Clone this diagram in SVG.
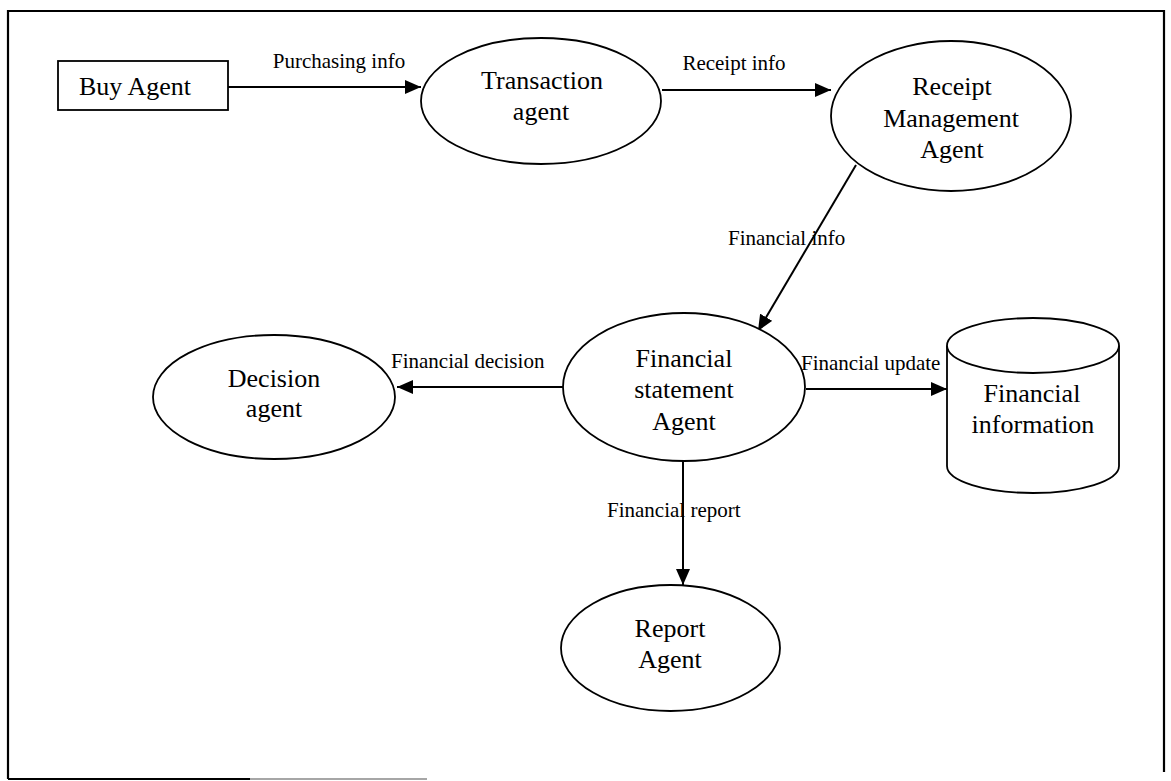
<svg xmlns="http://www.w3.org/2000/svg" width="1171" height="781" viewBox="0 0 1171 781">
<style>
.node{fill:#fff;stroke:#000;stroke-width:1.8}
.nt{font-family:"Liberation Serif","Times New Roman",serif;font-size:26px;fill:#000;text-anchor:middle}
.et{font-family:"Liberation Serif","Times New Roman",serif;font-size:21px;fill:#000}
.edge{fill:none;stroke:#000;stroke-width:2}
.frame{fill:none;stroke:#000;stroke-width:2.2}
</style>
<defs>
<marker id="arr" viewBox="0 0 16 14" refX="16" refY="7" markerWidth="16" markerHeight="14" markerUnits="userSpaceOnUse" orient="auto">
<path d="M0,0 L16,7 L0,14 Z" fill="#000"/>
</marker>
</defs>
<rect width="1171" height="781" fill="#fff"/>
<g id="frame">
<path class="frame" d="M8,779 L8,11 L1164,11 L1164,772"/>
<path class="frame" d="M8,779 L250,779"/>
<path d="M250,779 L427,779" stroke="#888" stroke-width="1.5" fill="none"/>
</g>
<g id="connectors">
<path class="edge" d="M228,87 L421,87" marker-end="url(#arr)"/>
<path class="edge" d="M662,90 L831,90" marker-end="url(#arr)"/>
<path class="edge" d="M856,165 L758,331" stroke-width="1.4" marker-end="url(#arr)"/>
<path class="edge" d="M563,387 L397,387" marker-end="url(#arr)"/>
<path class="edge" d="M806,389 L947,389" marker-end="url(#arr)"/>
<path class="edge" d="M683,461 L683,585" marker-end="url(#arr)"/>
<text class="et" x="339" y="68" text-anchor="middle">Purchasing info</text>
<text class="et" x="734" y="70" text-anchor="middle">Receipt info</text>
<text class="et" x="728" y="245">Financial info</text>
<text class="et" x="391" y="368">Financial decision</text>
<text class="et" x="801" y="370">Financial update</text>
<text class="et" x="607" y="517">Financial report</text>
</g>
<g id="buy-agent">
<rect class="node" x="58" y="61" width="170" height="49"/>
<text class="nt" x="79" y="95" text-anchor="start" style="text-anchor:start">Buy Agent</text>
</g>
<g id="transaction-agent">
<ellipse class="node" cx="541" cy="101" rx="120" ry="63"/>
<text class="nt" x="542" y="89">Transaction</text>
<text class="nt" x="541" y="120">agent</text>
</g>
<g id="receipt-management-agent">
<ellipse class="node" cx="951" cy="116" rx="120" ry="75"/>
<text class="nt" x="952" y="95">Receipt</text>
<text class="nt" x="951" y="127">Management</text>
<text class="nt" x="952" y="158">Agent</text>
</g>
<g id="financial-statement-agent">
<ellipse class="node" cx="684" cy="387" rx="121" ry="74"/>
<text class="nt" x="684" y="367">Financial</text>
<text class="nt" x="684" y="398">statement</text>
<text class="nt" x="684" y="430">Agent</text>
</g>
<g id="decision-agent">
<ellipse class="node" cx="274" cy="397" rx="121" ry="62"/>
<text class="nt" x="274" y="387">Decision</text>
<text class="nt" x="274" y="417">agent</text>
</g>
<g id="financial-information">
<path class="node" d="M947,345.5 L947,466 A86,27 0 0 0 1119,466 L1119,345.5"/>
<ellipse class="node" cx="1033" cy="345.5" rx="86" ry="27.5"/>
<text class="nt" x="1032" y="402">Financial</text>
<text class="nt" x="1033" y="433">information</text>
</g>
<g id="report-agent">
<ellipse class="node" cx="670.5" cy="648" rx="109.5" ry="63"/>
<text class="nt" x="670" y="637">Report</text>
<text class="nt" x="670" y="668">Agent</text>
</g>
</svg>
